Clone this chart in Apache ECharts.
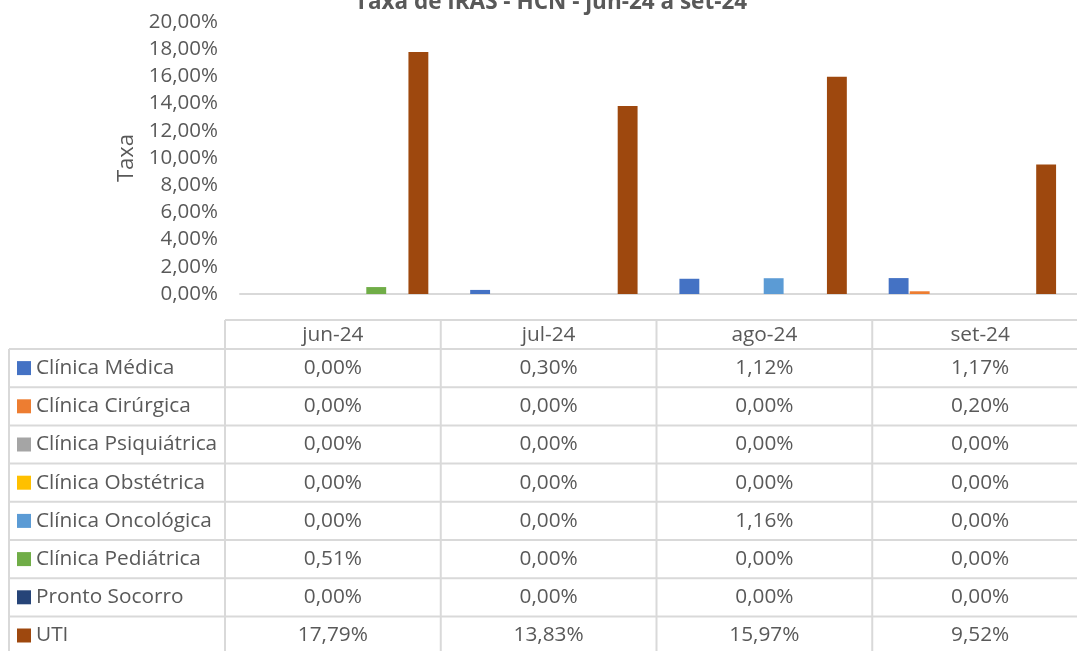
<!DOCTYPE html>
<html>
<head>
<meta charset="utf-8">
<title>Taxa de IRAS - HCN - jun-24 a set-24</title>
<script src="https://cdn.jsdelivr.net/npm/echarts@6/dist/echarts.min.js"></script>
<style>
  html, body { margin: 0; padding: 0; background: #ffffff; overflow: hidden; }
  #chart { width: 1077px; height: 651px; }
</style>
</head>
<body>
<div id="chart"></div>
<script>
// Months shown on the category axis and as the data table header
const months = ['jun-24', 'jul-24', 'ago-24', 'set-24'];

// Infection rate (%) per hospital unit, one value per month
const units = [
  'Clínica Médica', 'Clínica Cirúrgica', 'Clínica Psiquiátrica', 'Clínica Obstétrica',
  'Clínica Oncológica', 'Clínica Pediátrica', 'Pronto Socorro', 'UTI'
];
const clinicaMedica      = [0.00, 0.30, 1.12, 1.17];
const clinicaCirurgica   = [0.00, 0.00, 0.00, 0.20];
const clinicaPsiquiatrica = [0.00, 0.00, 0.00, 0.00];
const clinicaObstetrica  = [0.00, 0.00, 0.00, 0.00];
const clinicaOncologica  = [0.00, 0.00, 1.16, 0.00];
const clinicaPediatrica  = [0.51, 0.00, 0.00, 0.00];
const prontoSocorro      = [0.00, 0.00, 0.00, 0.00];
const uti                = [17.79, 13.83, 15.97, 9.52];

// Value axis ticks
const yTicks = [0, 2, 4, 6, 8, 10, 12, 14, 16, 18, 20];

const unitValues = [
  clinicaMedica, clinicaCirurgica, clinicaPsiquiatrica, clinicaObstetrica,
  clinicaOncologica, clinicaPediatrica, prontoSocorro, uti
];
const palette = ['#4472C4', '#ED7D31', '#A5A5A5', '#FFC000', '#5B9BD5', '#70AD47', '#264478', '#9E480E'];

const FONT = '"Open Sans", "Noto Sans", sans-serif';
const TEXT = '#595959';
const RULE = '#D9D9D9';
const TABLE_FONT = '20.8px ' + FONT;

const pct = v => v.toFixed(2).replace('.', ',') + '%';

// Data table geometry
const tbl = {
  top: 320,
  headerH: 29,
  rowH: 38.2,
  labelLeft: 9,
  colLeft: 225,
  colW: 215.75
};

function buildTable() {
  const els = [];
  const nRows = units.length;
  const bodyTop = tbl.top + tbl.headerH;
  const bottom = bodyTop + nRows * tbl.rowH;
  const right = tbl.colLeft + months.length * tbl.colW;
  const line = (x1, y1, x2, y2) => ({
    type: 'line', silent: true,
    shape: { x1, y1, x2, y2 },
    style: { stroke: RULE, lineWidth: 2 }
  });

  // header top rule and vertical rules of the month columns
  els.push(line(tbl.colLeft, tbl.top, right, tbl.top));
  for (let c = 0; c <= months.length; c++) {
    const x = tbl.colLeft + c * tbl.colW;
    els.push(line(x, tbl.top, x, bottom));
  }
  // left border of the label column
  els.push(line(tbl.labelLeft, bodyTop, tbl.labelLeft, bottom));
  // horizontal row rules
  for (let r = 0; r <= nRows; r++) {
    const y = bodyTop + r * tbl.rowH;
    els.push(line(tbl.labelLeft, y, right, y));
  }

  // month headers
  months.forEach((m, c) => {
    els.push({
      type: 'text', silent: true,
      style: {
        text: m, x: tbl.colLeft + (c + 0.5) * tbl.colW, y: tbl.top + tbl.headerH / 2 + 1,
        align: 'center', verticalAlign: 'middle',
        fill: TEXT, font: TABLE_FONT
      }
    });
  });

  // rows: key swatch, unit name, monthly values
  units.forEach((u, r) => {
    const cy = bodyTop + (r + 0.5) * tbl.rowH;
    els.push({
      type: 'rect', silent: true,
      shape: { x: 17, y: cy - 7, width: 14, height: 14 },
      style: { fill: palette[r] }
    });
    els.push({
      type: 'text', silent: true,
      style: {
        text: u, x: 36, y: cy, align: 'left', verticalAlign: 'middle',
        fill: TEXT, font: TABLE_FONT
      }
    });
    unitValues[r].forEach((v, c) => {
      els.push({
        type: 'text', silent: true,
        style: {
          text: pct(v), x: tbl.colLeft + (c + 0.5) * tbl.colW, y: cy,
          align: 'center', verticalAlign: 'middle',
          fill: TEXT, font: TABLE_FONT
        }
      });
    });
  });

  // chart title (partly above the top edge)
  els.push({
    type: 'text', silent: true,
    style: {
      text: 'Taxa de IRAS - HCN - jun-24 a set-24', x: 551, y: 14,
      align: 'center', verticalAlign: 'bottom',
      fill: TEXT, font: 'bold 22.5px ' + FONT
    }
  });
  return els;
}

const chart = echarts.init(document.getElementById('chart'), null, { renderer: 'canvas' });

chart.setOption({
  animation: false,
  backgroundColor: '#ffffff',
  textStyle: { fontFamily: FONT, color: TEXT },
  grid: { left: 240, right: -11, top: 22, bottom: 357, containLabel: false },
  xAxis: {
    type: 'category',
    data: months,
    axisLine: { show: true, lineStyle: { color: RULE, width: 2 } },
    axisTick: { show: false },
    axisLabel: { show: false },
    splitLine: { show: false }
  },
  yAxis: {
    type: 'value',
    min: yTicks[0],
    max: yTicks[yTicks.length - 1],
    interval: yTicks[1] - yTicks[0],
    name: 'Taxa',
    nameLocation: 'middle',
    nameGap: 100,
    nameTextStyle: { fontSize: 22, color: TEXT, fontFamily: FONT },
    axisLine: { show: false },
    axisTick: { show: false },
    splitLine: { show: false },
    axisLabel: {
      fontSize: 20.5, color: TEXT, fontFamily: FONT, margin: 22,
      formatter: v => pct(v)
    }
  },
  series: units.map((u, i) => ({
    name: u,
    type: 'bar',
    data: unitValues[i],
    barGap: '6%',
    barCategoryGap: '20%',
    itemStyle: { color: palette[i] }
  })),
  graphic: { elements: buildTable() }
});
</script>
</body>
</html>
